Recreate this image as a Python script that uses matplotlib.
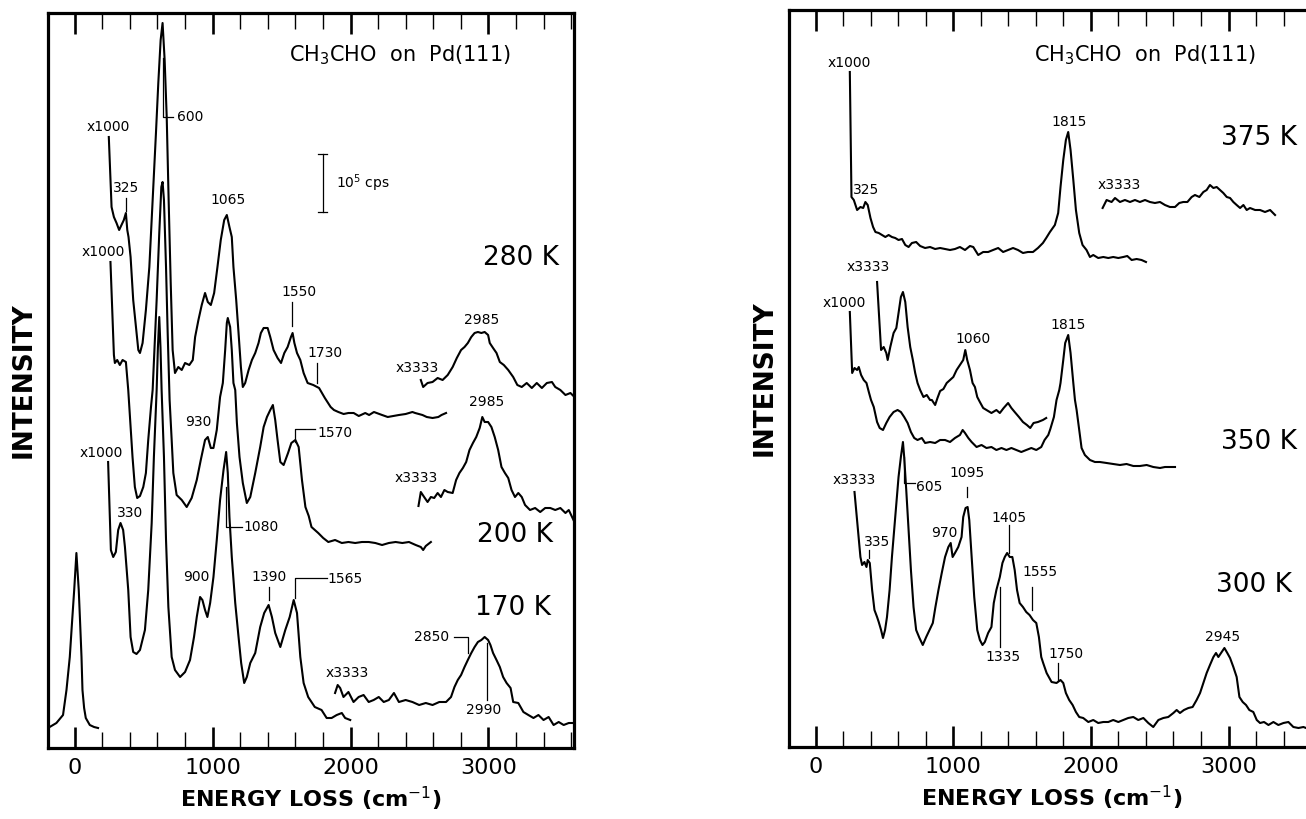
import numpy as np
import matplotlib
matplotlib.use("Agg")
from matplotlib import pyplot as plt
from matplotlib.ticker import MultipleLocator

plt.rcParams['font.family'] = ['DejaVu Sans']

# spectra are stored as (energy loss / cm-1, intensity in arbitrary units) pairs

# ---------------- left panel: 280 K, 200 K, 170 K ----------------
elastic = np.array([(-194, 20), (-133, 25), (-85, 33), (-60, 58), (-36, 91), (-20, 125),
                    (-4, 158), (12, 195), (29, 158), (39, 125), (49, 91), (56, 58),
                    (68, 40), (80, 30), (109, 23), (140, 21), (169, 20)])

k280_x1000 = np.array([
    (247, 611), (267, 541), (284, 531), (303, 525), (322, 518), (339, 523), (356, 528),
    (371, 535), (381, 518), (390, 511), (405, 491), (424, 448), (444, 421), (461, 398),
    (473, 395), (492, 405), (516, 438), (541, 481), (565, 548), (589, 615), (606, 665),
    (623, 708), (637, 725), (652, 688), (667, 631), (681, 548), (696, 465), (710, 398),
    (727, 375), (751, 381), (776, 378), (800, 385), (831, 383), (856, 388), (873, 411),
    (897, 428), (921, 443), (945, 455), (965, 446), (987, 443), (1011, 455), (1035, 481),
    (1059, 508), (1084, 528), (1103, 533), (1122, 521), (1139, 511), (1151, 481),
    (1171, 448), (1188, 415), (1205, 381), (1219, 361), (1236, 365), (1261, 378),
    (1285, 388), (1309, 395), (1333, 405), (1350, 415), (1370, 420), (1399, 420),
    (1418, 411), (1442, 398), (1471, 390), (1496, 385), (1520, 395), (1544, 401),
    (1568, 411), (1580, 415), (1593, 405), (1612, 395), (1636, 388), (1660, 375),
    (1689, 365), (1730, 363), (1772, 360), (1814, 350), (1856, 341), (1880, 338),
    (1912, 336), (1950, 334), (1985, 335), (2023, 335), (2060, 332), (2107, 335),
    (2135, 333), (2170, 336), (2229, 333), (2270, 331), (2351, 333), (2400, 334),
    (2449, 336), (2469, 335), (2522, 333), (2553, 331), (2595, 330), (2637, 331),
    (2660, 333), (2693, 335)])

k280_x3333 = np.array([
    (2510, 368), (2527, 361), (2559, 365), (2595, 366), (2632, 370), (2668, 368),
    (2705, 373), (2741, 381), (2771, 390), (2802, 398), (2827, 401), (2851, 405),
    (2876, 411), (2900, 415), (2924, 416), (2949, 415), (2973, 416), (2998, 413),
    (3010, 405), (3034, 400), (3059, 395), (3083, 386), (3112, 383), (3144, 378),
    (3180, 371), (3210, 363), (3242, 361), (3278, 365), (3315, 360), (3351, 365),
    (3388, 360), (3424, 365), (3461, 366), (3485, 361), (3522, 358), (3559, 353),
    (3595, 355), (3632, 350)])

k200_x1000 = np.array([
    (259, 486), (284, 393), (291, 385), (308, 388), (327, 383), (347, 388), (371, 386),
    (388, 358), (419, 291), (436, 261), (453, 250), (473, 252), (497, 261), (516, 275),
    (533, 308), (553, 341), (565, 358), (594, 448), (613, 515), (628, 561), (637, 566),
    (647, 548), (662, 481), (674, 415), (688, 348), (703, 308), (715, 275), (739, 253),
    (776, 248), (812, 241), (848, 250), (885, 268), (914, 288), (945, 308), (965, 311),
    (987, 300), (1006, 300), (1030, 318), (1054, 351), (1074, 365), (1091, 398),
    (1103, 425), (1110, 430), (1127, 421), (1139, 398), (1151, 365), (1164, 358),
    (1176, 325), (1195, 291), (1219, 265), (1248, 245), (1273, 251), (1309, 275),
    (1345, 301), (1370, 321), (1394, 331), (1418, 338), (1437, 343), (1454, 328),
    (1471, 308), (1491, 286), (1515, 283), (1547, 295), (1571, 305), (1600, 308),
    (1624, 301), (1648, 268), (1673, 241), (1697, 232), (1717, 221), (1766, 215),
    (1802, 210), (1839, 206), (1888, 208), (1937, 205), (1985, 206), (2034, 205),
    (2083, 206), (2132, 206), (2180, 205), (2229, 203), (2278, 205), (2327, 206),
    (2376, 205), (2424, 206), (2473, 203), (2510, 201), (2527, 198), (2546, 202),
    (2583, 206)])

k200_x3333 = np.array([
    (2493, 242), (2510, 256), (2534, 251), (2559, 246), (2583, 251), (2607, 250),
    (2632, 255), (2656, 251), (2681, 258), (2705, 256), (2741, 255), (2766, 268),
    (2790, 275), (2815, 280), (2839, 286), (2863, 298), (2888, 305), (2912, 311),
    (2937, 320), (2956, 331), (2973, 326), (2998, 326), (3022, 321), (3046, 311),
    (3071, 298), (3095, 281), (3120, 275), (3144, 270), (3168, 258), (3193, 251),
    (3217, 255), (3242, 251), (3266, 243), (3302, 238), (3339, 240), (3376, 236),
    (3412, 240), (3449, 240), (3485, 238), (3522, 240), (3559, 235), (3583, 238),
    (3607, 231), (3624, 226)])

k170_x1000 = np.array([
    (242, 286), (262, 198), (279, 191), (298, 196), (315, 218), (332, 225), (351, 218),
    (364, 201), (388, 158), (405, 111), (424, 96), (448, 94), (473, 98), (509, 118),
    (533, 158), (558, 225), (574, 291), (594, 358), (603, 400), (613, 431), (622, 400),
    (630, 358), (647, 291), (662, 208), (679, 141), (703, 91), (727, 78), (764, 71),
    (800, 76), (836, 88), (865, 111), (885, 131), (909, 151), (926, 148), (945, 138),
    (962, 131), (982, 145), (1006, 171), (1030, 208), (1054, 248), (1079, 278),
    (1098, 296), (1110, 275), (1122, 231), (1139, 191), (1164, 145), (1188, 111),
    (1207, 85), (1229, 65), (1248, 71), (1273, 85), (1309, 95), (1345, 121),
    (1374, 135), (1406, 143), (1430, 131), (1454, 115), (1491, 101), (1527, 118),
    (1559, 131), (1588, 148), (1612, 135), (1636, 91), (1660, 65), (1693, 51),
    (1741, 41), (1790, 38), (1827, 30), (1863, 30), (1900, 33), (1937, 35), (1961, 30),
    (1998, 28)])

k170_x3333 = np.array([
    (1888, 55), (1907, 63), (1925, 60), (1949, 51), (1985, 56), (2022, 46), (2059, 51),
    (2095, 53), (2132, 46), (2168, 48), (2205, 51), (2241, 46), (2278, 48), (2315, 55),
    (2351, 46), (2400, 48), (2449, 46), (2498, 43), (2546, 45), (2595, 43), (2644, 46),
    (2693, 46), (2729, 51), (2754, 61), (2778, 68), (2802, 73), (2827, 81), (2851, 88),
    (2876, 95), (2900, 101), (2924, 106), (2949, 108), (2973, 111), (2998, 108),
    (3015, 103), (3034, 95), (3059, 88), (3083, 81), (3107, 71), (3132, 65), (3161, 60),
    (3180, 46), (3217, 45), (3254, 36), (3290, 33), (3327, 30), (3363, 33), (3400, 28),
    (3437, 31), (3473, 23), (3510, 26), (3546, 23), (3583, 25), (3624, 25)])

# ---------------- right panel: 375 K, 350 K, 300 K ----------------
k375_x1000 = np.array([
    (248, 675), (260, 550), (277, 547), (301, 537), (325, 540), (345, 539), (361, 545),
    (378, 542), (398, 529), (417, 520), (434, 515), (458, 514), (482, 512), (506, 510),
    (530, 512), (554, 510), (578, 509), (602, 507), (627, 508), (651, 502), (675, 500),
    (699, 504), (730, 505), (759, 501), (795, 499), (831, 500), (868, 498), (904, 499),
    (940, 498), (976, 497), (1012, 498), (1048, 500), (1085, 497), (1121, 501),
    (1145, 500), (1181, 492), (1217, 495), (1253, 495), (1289, 497), (1326, 499),
    (1362, 495), (1398, 497), (1434, 499), (1470, 497), (1506, 494), (1542, 495),
    (1579, 495), (1615, 499), (1651, 504), (1675, 509), (1702, 515), (1738, 522),
    (1762, 534), (1779, 560), (1799, 587), (1818, 607), (1835, 615), (1852, 597),
    (1872, 567), (1891, 537), (1915, 514), (1939, 502), (1968, 497), (1993, 490),
    (2017, 492), (2053, 489), (2090, 490), (2126, 489), (2162, 490), (2199, 489),
    (2235, 490), (2264, 491), (2296, 487), (2332, 488), (2368, 487), (2400, 485)])

k375_x3333 = np.array([
    (2085, 539), (2114, 547), (2150, 545), (2175, 549), (2211, 545), (2247, 547),
    (2284, 545), (2320, 547), (2356, 545), (2393, 547), (2429, 545), (2465, 544),
    (2502, 545), (2538, 542), (2574, 540), (2611, 540), (2642, 544), (2671, 545),
    (2701, 545), (2732, 550), (2756, 552), (2788, 550), (2817, 555), (2841, 557),
    (2865, 562), (2890, 559), (2914, 560), (2938, 557), (2962, 554), (2987, 550),
    (3011, 549), (3035, 545), (3059, 542), (3084, 539), (3108, 542), (3132, 537),
    (3156, 539), (3193, 537), (3229, 537), (3265, 535), (3302, 537), (3338, 532)])

k350_x1000 = np.array([
    (248, 435), (265, 374), (282, 379), (301, 377), (313, 380), (330, 372), (349, 367),
    (369, 364), (386, 355), (402, 347), (422, 340), (446, 325), (465, 319), (489, 317),
    (513, 324), (537, 330), (566, 335), (595, 337), (619, 335), (643, 330), (668, 324),
    (692, 315), (716, 309), (740, 307), (771, 309), (795, 304), (831, 305), (868, 304),
    (904, 307), (940, 307), (976, 305), (1012, 309), (1048, 312), (1068, 317),
    (1085, 314), (1109, 309), (1133, 305), (1169, 300), (1205, 302), (1241, 299),
    (1277, 300), (1313, 297), (1350, 299), (1386, 297), (1422, 299), (1458, 297),
    (1494, 295), (1530, 297), (1567, 299), (1603, 297), (1639, 300), (1663, 307),
    (1690, 312), (1705, 318), (1731, 330), (1750, 347), (1770, 357), (1779, 364),
    (1799, 387), (1813, 404), (1835, 412), (1852, 394), (1872, 364), (1884, 347),
    (1896, 337), (1915, 317), (1932, 299), (1956, 292), (1993, 287), (2029, 285),
    (2065, 285), (2114, 284), (2162, 283), (2211, 282), (2259, 283), (2308, 281),
    (2356, 281), (2405, 282), (2453, 280), (2502, 279), (2538, 280), (2574, 280),
    (2611, 280)])

k350_x3333 = np.array([
    (446, 465), (475, 397), (494, 400), (513, 394), (523, 387), (542, 400), (566, 414),
    (586, 419), (602, 434), (619, 450), (634, 455), (651, 445), (668, 420), (687, 400),
    (706, 387), (723, 374), (740, 364), (759, 357), (783, 350), (807, 352), (831, 347),
    (844, 347), (868, 342), (885, 349), (904, 356), (928, 358), (952, 364), (976, 367),
    (1000, 370), (1024, 377), (1048, 382), (1072, 387), (1087, 397), (1101, 387),
    (1121, 377), (1140, 364), (1157, 360), (1174, 350), (1193, 345), (1217, 339),
    (1241, 337), (1277, 334), (1313, 337), (1338, 334), (1366, 339), (1398, 344),
    (1422, 339), (1446, 335), (1477, 330), (1506, 325), (1535, 322), (1559, 319),
    (1583, 324), (1615, 325), (1651, 327), (1675, 329)])

k300_x3333 = np.array([
    (282, 255), (325, 190), (337, 182), (354, 185), (369, 180), (378, 187), (393, 184),
    (410, 157), (427, 137), (446, 130), (458, 125), (475, 117), (489, 109), (504, 117),
    (518, 130), (537, 157), (554, 190), (578, 230), (602, 270), (619, 290), (634, 305),
    (643, 290), (658, 257), (675, 217), (692, 177), (711, 140), (730, 117), (754, 109),
    (778, 102), (803, 110), (827, 117), (851, 124), (870, 140), (892, 157), (916, 174),
    (940, 190), (964, 200), (981, 204), (995, 190), (1012, 194), (1036, 200),
    (1060, 210), (1072, 230), (1089, 239), (1104, 240), (1116, 227), (1133, 190),
    (1152, 150), (1174, 117), (1193, 107), (1212, 102), (1229, 105), (1253, 114),
    (1277, 120), (1294, 144), (1313, 157), (1338, 170), (1357, 184), (1374, 190),
    (1391, 194), (1410, 190), (1429, 190), (1446, 177), (1463, 157), (1482, 144),
    (1506, 140), (1530, 135), (1554, 132), (1579, 127), (1603, 124), (1622, 110),
    (1639, 90), (1653, 84), (1678, 74), (1714, 65), (1750, 64), (1779, 67), (1799, 64),
    (1818, 54), (1842, 47), (1867, 42), (1891, 35), (1915, 30), (1944, 29), (1981, 25),
    (2017, 27), (2053, 24), (2090, 25), (2126, 25), (2162, 27), (2199, 25), (2235, 27),
    (2271, 29), (2308, 30), (2344, 27), (2381, 29), (2417, 24), (2453, 20), (2490, 27),
    (2526, 29), (2562, 30), (2599, 34), (2623, 37), (2647, 34), (2676, 37), (2708, 39),
    (2739, 40), (2768, 47), (2793, 54), (2817, 64), (2841, 74), (2865, 82), (2890, 90),
    (2909, 94), (2926, 90), (2950, 95), (2970, 99), (2991, 94), (3011, 89), (3035, 80),
    (3059, 70), (3079, 50), (3103, 45), (3127, 42), (3151, 37), (3180, 35), (3205, 27),
    (3229, 24), (3258, 25), (3290, 22), (3326, 25), (3362, 22), (3399, 24), (3435, 25),
    (3471, 20), (3508, 19), (3544, 20), (3563, 19), (3620, 19)])

left_spectra = [elastic, k280_x1000, k280_x3333, k200_x1000, k200_x3333,
                k170_x1000, k170_x3333]
right_spectra = [k375_x1000, k375_x3333, k350_x1000, k350_x3333, k300_x3333]

tick_values = [0, 1000, 2000, 3000]
title = r"CH$_3$CHO  on  Pd(111)"

W, H = 1306, 819
fig = plt.figure(figsize=(W / 100, H / 100), dpi=100)
fig.patch.set_facecolor("white")

ax_l = fig.add_axes([48 / W, 71 / H, 526 / W, 735 / H])
ax_r = fig.add_axes([789 / W, 72 / H, 525 / W, 737 / H])


def setup(ax, ylim):
    ax.set_xlim(-194, 3621)
    ax.set_ylim(0, ylim)
    for s in ax.spines.values():
        s.set_linewidth(2.3)
    ax.xaxis.set_major_locator(MultipleLocator(1000))
    ax.xaxis.set_minor_locator(MultipleLocator(200))
    ax.set_xticks(tick_values)
    ax.set_xticklabels([str(v) for v in tick_values])
    ax.tick_params(axis="x", which="major", direction="in", top=True, bottom=True,
                   length=15, width=1.9, labelsize=16, pad=7)
    ax.tick_params(axis="x", which="minor", direction="in", top=True, bottom=True,
                   length=11.5, width=1.0)
    ax.tick_params(axis="y", left=False, labelleft=False)
    ax.set_xlabel("ENERGY LOSS (cm$^{-1}$)", fontsize=16, fontweight="bold", labelpad=5)
    ax.set_ylabel("INTENSITY", fontsize=19, fontweight="bold", labelpad=8)


def line(ax, xs, ys):
    ax.plot(xs, ys, color="black", lw=0.9)


def note(ax, x, y, s, size=10, ha="center"):
    ax.text(x, y, s, fontsize=size, ha=ha, va="center")


setup(ax_l, 735)
setup(ax_r, 737)

for seg in left_spectra:
    ax_l.plot(seg[:, 0], seg[:, 1], color="black", lw=1.5)
for seg in right_spectra:
    ax_r.plot(seg[:, 0], seg[:, 1], color="black", lw=1.5)

# ---- left panel labels ----
ax = ax_l
ax.text(2360, 693, title, fontsize=15, ha="center", va="center")
note(ax, 3237, 490, "280 K", 19)
note(ax, 3193, 213, "200 K", 19)
note(ax, 3182, 140, "170 K", 19)

note(ax, 242, 621, "x1000")
note(ax, 375, 560, "325")
line(ax, [371, 371], [550, 537])
note(ax, 738, 631, "600", ha="left")
line(ax, [642, 642, 712], [690, 631, 631])
note(ax, 1113, 548, "1065")
note(ax, 1625, 456, "1550")
line(ax, [1577, 1577], [446, 422])
note(ax, 1818, 395, "1730")
line(ax, [1754, 1754], [385, 365])
note(ax, 2485, 380, "x3333")
note(ax, 2951, 428, "2985")

# scale bar
line(ax, [1797, 1797], [536, 594])
line(ax, [1767, 1827], [594, 594])
line(ax, [1767, 1827], [536, 536])
ax.text(1894, 565, r"10$^5$ cps", fontsize=10, ha="left", va="center")

note(ax, 206, 496, "x1000")
note(ax, 895, 326, "930")
note(ax, 1760, 315, "1570", ha="left")
line(ax, [1600, 1600, 1740], [306, 319, 319])
note(ax, 2988, 346, "2985")
note(ax, 2479, 270, "x3333")

note(ax, 194, 295, "x1000")
note(ax, 400, 235, "330")
note(ax, 1222, 221, "1080", ha="left")
line(ax, [1098, 1098, 1215], [261, 221, 221])
note(ax, 883, 171, "900")
note(ax, 1406, 171, "1390")
line(ax, [1406, 1406], [161, 148])
note(ax, 1835, 169, "1565", ha="left")
line(ax, [1597, 1597, 1826], [150, 170, 170])
note(ax, 1973, 75, "x3333")
note(ax, 2588, 111, "2850")
line(ax, [2754, 2851, 2851], [111, 111, 95])
note(ax, 2963, 38, "2990")
line(ax, [2990, 2990], [105, 48])

# ---- right panel labels ----
ax = ax_r
ax.text(2393, 692, title, fontsize=15, ha="center", va="center")
note(ax, 3224, 609, "375 K", 19)
note(ax, 3221, 305, "350 K", 19)
note(ax, 3188, 162, "300 K", 19)

note(ax, 242, 684, "x1000")
note(ax, 363, 557, "325")
note(ax, 1840, 625, "1815")
note(ax, 2203, 562, "x3333")

note(ax, 380, 480, "x3333")
note(ax, 206, 444, "x1000")
note(ax, 1142, 408, "1060")
note(ax, 1835, 422, "1815")

note(ax, 278, 267, "x3333")
note(ax, 726, 260, "605", ha="left")
line(ax, [643, 643, 718], [290, 264, 264])
note(ax, 1102, 274, "1095")
line(ax, [1102, 1102], [260, 250])
note(ax, 937, 214, "970")
note(ax, 1404, 229, "1405")
line(ax, [1404, 1404], [222, 194])
note(ax, 448, 205, "335")
line(ax, [386, 386], [197, 189])
note(ax, 1629, 175, "1555")
line(ax, [1571, 1571], [160, 137])
note(ax, 1363, 90, "1335")
line(ax, [1338, 1338], [160, 100])
note(ax, 1816, 93, "1750")
line(ax, [1762, 1762], [84, 67])
note(ax, 2953, 110, "2945")

fig.savefig("out.png", dpi=100, facecolor="white")
